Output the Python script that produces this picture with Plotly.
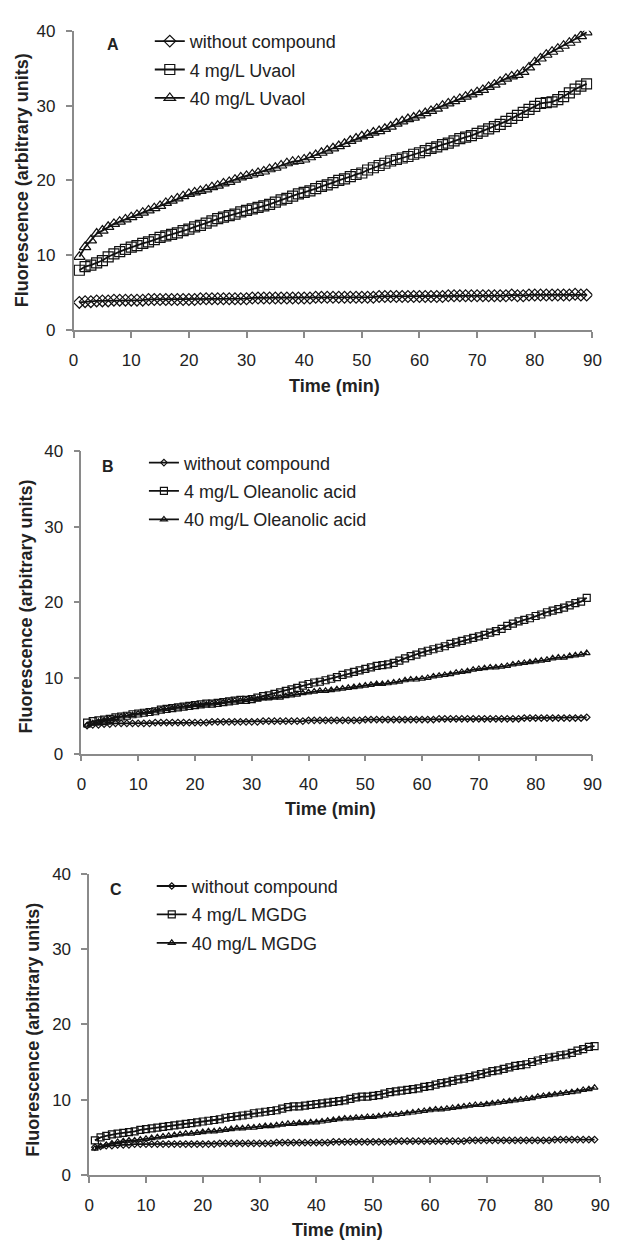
import plotly.graph_objects as go

# ---------------- data ----------------
time_min = list(range(1, 90))
x_ticks = [0, 10, 20, 30, 40, 50, 60, 70, 80, 90]
y_ticks = [0, 10, 20, 30, 40]

A_without = [3.7, 3.8, 3.8, 3.9, 3.9, 3.9, 4.0, 4.0, 4.0, 4.0,
             4.0, 4.0, 4.1, 4.1, 4.1, 4.1, 4.1, 4.1, 4.1, 4.1,
             4.1, 4.2, 4.2, 4.2, 4.2, 4.2, 4.2, 4.2, 4.2, 4.2,
             4.3, 4.3, 4.3, 4.3, 4.3, 4.3, 4.3, 4.3, 4.3, 4.3,
             4.3, 4.4, 4.4, 4.4, 4.4, 4.4, 4.4, 4.4, 4.4, 4.4,
             4.4, 4.4, 4.5, 4.5, 4.5, 4.5, 4.5, 4.5, 4.5, 4.5,
             4.5, 4.5, 4.5, 4.5, 4.6, 4.6, 4.6, 4.6, 4.6, 4.6,
             4.6, 4.6, 4.6, 4.6, 4.6, 4.7, 4.6, 4.6, 4.7, 4.7,
             4.7, 4.7, 4.7, 4.7, 4.7, 4.7, 4.8, 4.7, 4.7]
A_4mg = [8.0, 8.5, 8.7, 9.0, 9.3, 9.8, 10.2, 10.5, 10.8, 11.1,
         11.3, 11.6, 11.8, 12.1, 12.4, 12.6, 12.8, 13.0, 13.3, 13.5,
         13.8, 14.0, 14.3, 14.6, 14.9, 15.1, 15.3, 15.5, 15.8, 16.0,
         16.2, 16.4, 16.6, 16.8, 17.1, 17.4, 17.6, 17.9, 18.2, 18.4,
         18.6, 18.9, 19.2, 19.4, 19.7, 20.0, 20.2, 20.5, 20.8, 21.0,
         21.4, 21.7, 22.0, 22.3, 22.6, 22.8, 23.0, 23.2, 23.5, 23.7,
         24.0, 24.3, 24.5, 24.8, 25.0, 25.3, 25.6, 25.8, 26.0, 26.3,
         26.6, 26.9, 27.2, 27.5, 27.9, 28.3, 28.7, 29.1, 29.5, 29.9,
         30.3, 30.4, 30.5, 30.8, 31.2, 31.7, 32.2, 32.6, 32.9]
A_40mg = [9.8, 11.1, 12.0, 12.9, 13.3, 13.8, 14.2, 14.5, 14.8, 15.1,
          15.4, 15.7, 16.0, 16.3, 16.6, 17.0, 17.3, 17.6, 17.9, 18.2,
          18.4, 18.6, 18.8, 19.1, 19.3, 19.6, 19.8, 20.1, 20.4, 20.6,
          20.8, 21.0, 21.2, 21.5, 21.7, 22.0, 22.3, 22.5, 22.6, 22.8,
          23.1, 23.4, 23.7, 24.0, 24.3, 24.6, 24.9, 25.3, 25.6, 25.9,
          26.1, 26.4, 26.6, 26.9, 27.2, 27.6, 27.9, 28.2, 28.4, 28.7,
          29.0, 29.3, 29.6, 30.0, 30.3, 30.6, 30.9, 31.2, 31.5, 31.8,
          32.1, 32.5, 32.8, 33.2, 33.6, 33.9, 34.1, 34.5, 35.1, 35.8,
          36.3, 36.8, 37.2, 37.6, 38.0, 38.4, 38.8, 39.3, 39.8]

B_without = [3.7, 3.8, 3.8, 3.9, 3.9, 4.0, 4.0, 4.0, 4.0, 4.0,
             4.0, 4.0, 4.1, 4.1, 4.1, 4.1, 4.1, 4.1, 4.1, 4.1,
             4.1, 4.1, 4.2, 4.2, 4.2, 4.2, 4.2, 4.2, 4.2, 4.2,
             4.2, 4.3, 4.3, 4.3, 4.3, 4.3, 4.3, 4.3, 4.3, 4.4,
             4.4, 4.4, 4.4, 4.4, 4.4, 4.4, 4.4, 4.4, 4.4, 4.5,
             4.5, 4.5, 4.5, 4.5, 4.5, 4.5, 4.5, 4.5, 4.5, 4.5,
             4.5, 4.5, 4.6, 4.6, 4.6, 4.6, 4.6, 4.6, 4.6, 4.6,
             4.6, 4.6, 4.6, 4.6, 4.6, 4.6, 4.6, 4.7, 4.7, 4.7,
             4.7, 4.7, 4.7, 4.7, 4.7, 4.7, 4.7, 4.7, 4.8]
B_4mg = [4.1, 4.3, 4.4, 4.5, 4.6, 4.8, 4.9, 5.0, 5.2, 5.3,
         5.4, 5.5, 5.6, 5.8, 5.9, 6.0, 6.1, 6.2, 6.3, 6.4,
         6.5, 6.6, 6.6, 6.7, 6.8, 6.9, 7.0, 7.1, 7.1, 7.2,
         7.4, 7.6, 7.7, 7.9, 8.1, 8.3, 8.5, 8.7, 9.0, 9.2,
         9.4, 9.5, 9.7, 9.9, 10.1, 10.4, 10.6, 10.8, 11.0, 11.2,
         11.4, 11.6, 11.7, 11.8, 12.0, 12.3, 12.6, 12.9, 13.1, 13.4,
         13.6, 13.8, 14.0, 14.2, 14.5, 14.7, 14.9, 15.1, 15.3, 15.5,
         15.7, 16.0, 16.2, 16.5, 16.9, 17.2, 17.5, 17.7, 17.9, 18.2,
         18.4, 18.7, 18.9, 19.1, 19.3, 19.6, 19.9, 20.1, 20.6]
B_40mg = [3.7, 4.0, 4.2, 4.4, 4.6, 4.7, 4.9, 5.0, 5.1, 5.3,
          5.4, 5.5, 5.6, 5.8, 5.9, 6.0, 6.1, 6.2, 6.3, 6.4,
          6.4, 6.5, 6.6, 6.7, 6.8, 6.9, 7.0, 7.0, 7.1, 7.2,
          7.2, 7.3, 7.3, 7.4, 7.4, 7.6, 7.7, 7.8, 8.0, 8.1,
          8.2, 8.3, 8.3, 8.4, 8.5, 8.6, 8.7, 8.8, 8.9, 9.0,
          9.1, 9.2, 9.2, 9.3, 9.4, 9.5, 9.7, 9.8, 9.8, 9.9,
          10.0, 10.2, 10.3, 10.4, 10.5, 10.7, 10.8, 10.9, 11.1, 11.2,
          11.3, 11.4, 11.4, 11.5, 11.6, 11.8, 11.9, 12.0, 12.1, 12.2,
          12.3, 12.4, 12.6, 12.7, 12.7, 12.9, 13.0, 13.1, 13.3]

C_without = [3.7, 3.8, 3.9, 3.9, 4.0, 4.0, 4.0, 4.1, 4.1, 4.1,
             4.1, 4.1, 4.1, 4.1, 4.1, 4.1, 4.1, 4.1, 4.1, 4.1,
             4.1, 4.1, 4.2, 4.2, 4.2, 4.2, 4.2, 4.2, 4.2, 4.2,
             4.2, 4.2, 4.3, 4.3, 4.3, 4.3, 4.3, 4.3, 4.3, 4.3,
             4.3, 4.3, 4.4, 4.4, 4.4, 4.4, 4.4, 4.4, 4.4, 4.4,
             4.4, 4.4, 4.4, 4.5, 4.5, 4.5, 4.5, 4.5, 4.5, 4.5,
             4.5, 4.5, 4.5, 4.5, 4.5, 4.5, 4.6, 4.6, 4.6, 4.6,
             4.6, 4.6, 4.6, 4.6, 4.6, 4.6, 4.6, 4.6, 4.6, 4.6,
             4.6, 4.7, 4.7, 4.7, 4.7, 4.7, 4.7, 4.7, 4.7]
C_4mg = [4.6, 5.0, 5.2, 5.4, 5.5, 5.6, 5.7, 5.8, 6.0, 6.1,
         6.2, 6.3, 6.4, 6.5, 6.6, 6.7, 6.8, 6.9, 7.0, 7.1,
         7.2, 7.3, 7.4, 7.6, 7.7, 7.8, 7.9, 8.0, 8.2, 8.3,
         8.4, 8.5, 8.6, 8.8, 9.0, 9.1, 9.1, 9.2, 9.3, 9.4,
         9.5, 9.6, 9.7, 9.8, 9.9, 10.1, 10.3, 10.4, 10.4, 10.5,
         10.6, 10.8, 11.0, 11.1, 11.2, 11.3, 11.4, 11.5, 11.7, 11.8,
         12.0, 12.2, 12.3, 12.5, 12.7, 12.8, 13.0, 13.2, 13.4, 13.6,
         13.8, 13.9, 14.1, 14.3, 14.5, 14.6, 14.7, 15.0, 15.2, 15.4,
         15.6, 15.7, 15.9, 16.0, 16.2, 16.5, 16.7, 17.0, 17.1]
C_40mg = [3.5, 3.8, 4.0, 4.2, 4.4, 4.5, 4.6, 4.6, 4.7, 4.8,
          4.9, 5.0, 5.1, 5.2, 5.3, 5.4, 5.5, 5.5, 5.6, 5.7,
          5.8, 5.8, 5.9, 6.0, 6.1, 6.2, 6.2, 6.3, 6.3, 6.4,
          6.5, 6.5, 6.6, 6.7, 6.8, 6.8, 6.9, 6.9, 7.0, 7.0,
          7.1, 7.2, 7.3, 7.4, 7.5, 7.5, 7.6, 7.6, 7.7, 7.7,
          7.8, 7.9, 8.0, 8.0, 8.1, 8.2, 8.3, 8.4, 8.5, 8.6,
          8.7, 8.7, 8.8, 8.9, 9.0, 9.1, 9.2, 9.3, 9.3, 9.4,
          9.5, 9.6, 9.7, 9.8, 9.9, 10.0, 10.1, 10.2, 10.4, 10.5,
          10.6, 10.7, 10.8, 10.9, 11.0, 11.1, 11.3, 11.4, 11.6]

names_A = ["without compound", "4 mg/L Uvaol", "40 mg/L Uvaol"]
names_B = ["without compound", "4 mg/L Oleanolic acid", "40 mg/L Oleanolic acid"]
names_C = ["without compound", "4 mg/L MGDG", "40 mg/L MGDG"]
panel_letters = ["A", "B", "C"]
x_title = "Time (min)"
y_title = "Fluorescence (arbitrary units)"

# ---------------- styling / layout ----------------
# the page body keeps its default 8 px margin, so the figure is drawn
# 8 px smaller and all pixel positions are given in page pixels minus 8
OFF = 8
W, H = 619 - OFF, 1250 - OFF
FONT = "Liberation Sans, Arial, Helvetica, sans-serif"
TXT = "#222222"
AXC = "#8a8a8a"

def px(v):
    return (v - OFF) / W

def py(v):
    return 1 - (v - OFF) / H

# plot-area boxes in page pixels: (left, right, top, bottom)
boxes = [(70, 601, 22, 326), (78, 601, 449, 756), (86, 609, 878, 1184)]
styles = [
    [("diamond-open", 9), ("square-open", 10), ("triangle-up-open", 10)],
    [("diamond-open", 5), ("square-open", 7), ("triangle-up-open", 6)],
    [("diamond-open", 5), ("square-open", 7), ("triangle-up-open", 6)],
]
series = [
    (names_A, [A_without, A_4mg, A_40mg]),
    (names_B, [B_without, B_4mg, B_40mg]),
    (names_C, [C_without, C_4mg, C_40mg]),
]
legend_text_x = [188, 182, 190]
legend_top = [14, 442, 872]
x_title_pos = [(337, 383), (333, 812), (340, 1240)]
y_title_pos = [(18, 174), (21, 607), (29, 1037)]
letter_pos = [(110, 36), (105, 464), (113, 894)]

fig = go.Figure()
layout = dict(
    width=W, height=H,
    margin=dict(l=0, r=0, t=0, b=0),
    paper_bgcolor="white", plot_bgcolor="white",
    font=dict(family=FONT, color=TXT, size=17),
    annotations=[],
)

for i in range(3):
    sfx = "" if i == 0 else str(i + 1)
    names, ys = series[i]
    lg = "legend" if i == 0 else "legend" + str(i + 1)
    for j in range(3):
        sym, sz = styles[i][j]
        fig.add_trace(go.Scatter(
            x=time_min, y=ys[j], name=names[j], mode="lines+markers",
            xaxis="x" + sfx, yaxis="y" + sfx, legend=lg,
            legendgroup=f"g{i}{j}",
            line=dict(color="#111111", width=1.8),
            marker=dict(symbol=sym, size=sz, color="#111111",
                        line=dict(color="#111111", width=1.2)),
        ))
    l, r, t, b = boxes[i]
    common = dict(
        showline=True, linecolor=AXC, linewidth=1.5,
        ticks="outside", ticklen=6, tickcolor=AXC, tickwidth=1.5,
        showgrid=False, zeroline=False, tickfont=dict(size=17, color=TXT),
    )
    layout["xaxis" + sfx] = dict(
        domain=[px(l), px(r)], anchor="y" + sfx, range=[0, 90],
        tickvals=x_ticks, ticklabelstandoff=8, **common,
    )
    layout["yaxis" + sfx] = dict(
        domain=[py(b), py(t)], anchor="x" + sfx, range=[0, 40],
        tickvals=y_ticks, ticklabelstandoff=7, **common,
    )
    layout[lg] = dict(
        x=px(legend_text_x[i] - 40), y=py(legend_top[i]),
        xanchor="left", yanchor="top",
        bgcolor="rgba(0,0,0,0)", font=dict(size=18, color=TXT),
        tracegroupgap=2, itemwidth=30,
    )
    xt = x_title_pos[i]
    layout["annotations"].append(dict(
        x=px(xt[0]), y=py(xt[1]), xref="paper", yref="paper",
        text=f"<b>{x_title}</b>", showarrow=False,
        font=dict(size=18, color=TXT), xanchor="center", yanchor="middle",
    ))
    yt = y_title_pos[i]
    layout["annotations"].append(dict(
        x=px(yt[0]), y=py(yt[1]), xref="paper", yref="paper",
        text=f"<b>{y_title}</b>", showarrow=False, textangle=-90,
        font=dict(size=18, color=TXT), xanchor="center", yanchor="middle",
    ))
    lp = letter_pos[i]
    layout["annotations"].append(dict(
        x=px(lp[0]), y=py(lp[1]), xref="paper", yref="paper",
        text=f"<b>{panel_letters[i]}</b>", showarrow=False,
        font=dict(size=16, color=TXT), xanchor="center", yanchor="middle",
    ))

fig.update_layout(**layout)
fig.write_html("out.html")
